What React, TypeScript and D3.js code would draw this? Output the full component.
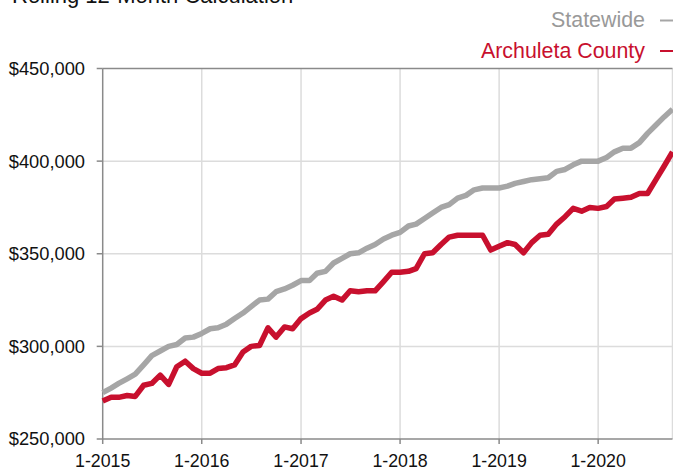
import React from "react";
import * as d3 from "d3";

const startYear = 2015;
const statewide = [
  275000, 277500, 280000, 282500, 285000, 290000, 295000, 297500, 300000, 301000,
  304500, 305000, 307000, 309500, 310000, 312000, 315000, 318000, 321500, 325000,
  325500, 329500, 331000, 333000, 335500, 335500, 339500, 340500, 345000, 347500,
  350000, 350500, 353000, 355000, 358000, 360000, 361500, 365000, 366000, 369000,
  372000, 375000, 376500, 380000, 381500, 384500, 385500, 385500, 385500, 386500,
  388000, 389000, 390000, 390500, 391000, 394500, 395500, 398000, 400000, 400000,
  400000, 402000, 405000, 407000, 407000, 410000, 415000, 419500, 424000, 428000,
];
const archuleta = [
  270500, 272500, 272500, 273500, 273000, 279000, 280000, 284500, 279500, 289000,
  292000, 288000, 285500, 285500, 288000, 288500, 290000, 297000, 300000, 300500,
  310000, 305000, 310500, 309500, 315000, 318000, 320000, 325000, 327000, 325000,
  330000, 329500, 330000, 330000, 335000, 340000, 340000, 340500, 342000, 350000,
  350500, 355000, 359000, 360000, 360000, 360000, 360000, 352000, 354000, 356000,
  355000, 350500, 356000, 360000, 360500, 366000, 370000, 374500, 373000, 375000,
  374500, 375500, 379500, 380000, 380500, 382500, 382500, 390000, 397500, 405000,
];
const yTicks = [250000, 300000, 350000, 400000, 450000];
const xTickYears = [2015, 2016, 2017, 2018, 2019, 2020];
const seriesNames = ["Statewide", "Archuleta County"];
const seriesColors = ["#a6a6a6", "#c8102e"];

const W = 673;
const H = 470;
const left = 102.7;
const right = 672.5;
const top = 68.5;
const bottom = 439;

export default function App() {
  const dates = statewide.map((_, i) => new Date(startYear, i, 1));
  const x = d3
    .scaleTime()
    .domain([dates[0], dates[dates.length - 1]])
    .range([left, right]);
  const y = d3.scaleLinear().domain([250000, 450000]).range([bottom, top]);
  const line = d3
    .line<number>()
    .x((_, i) => x(dates[i]))
    .y((d) => y(d));
  const fmt = d3.format("$,.0f");
  const font = "'Liberation Sans', Arial, Helvetica, sans-serif";
  const axisColor = "#8a8a8a";
  const gridColor = "#dcdcdc";

  return (
    <div style={{ position: "absolute", left: 0, top: 0 }}>
      <svg width={W} height={H} style={{ display: "block", fontFamily: font }}>
        <rect width={W} height={H} fill="#fff" />
        <text x={12} y={3} fontSize={22} fill="#111">
          Rolling 12-Month Calculation
        </text>
        {/* legend */}
        {seriesNames.map((n, i) => (
          <g key={n}>
            <text
              x={645}
              y={27 + i * 31}
              fontSize={21.4}
              textAnchor="end"
              fill={i === 0 ? "#999999" : seriesColors[1]}
            >
              {n}
            </text>
            <line
              x1={660}
              x2={673}
              y1={20.5 + i * 30.5}
              y2={20.5 + i * 30.5}
              stroke={seriesColors[i]}
              strokeWidth={2}
            />
          </g>
        ))}
        {/* grid */}
        {xTickYears.slice(1).map((yr) => (
          <line
            key={"vx" + yr}
            x1={x(new Date(yr, 0, 1))}
            x2={x(new Date(yr, 0, 1))}
            y1={top}
            y2={bottom}
            stroke={gridColor}
            strokeWidth={1.5}
          />
        ))}
        {yTicks.slice(1, -1).map((v) => (
          <line
            key={"hy" + v}
            x1={left}
            x2={right}
            y1={y(v)}
            y2={y(v)}
            stroke={gridColor}
            strokeWidth={1.5}
          />
        ))}
        <line x1={right} x2={right} y1={top} y2={bottom} stroke={gridColor} strokeWidth={1.5} />
        <line x1={left} x2={right} y1={top} y2={top} stroke={axisColor} strokeWidth={1.5} />
        {/* axes */}
        <line x1={left} x2={left} y1={top} y2={bottom} stroke={axisColor} strokeWidth={1.5} />
        <line x1={left} x2={right} y1={bottom} y2={bottom} stroke={axisColor} strokeWidth={1.5} />
        {yTicks.map((v) => (
          <g key={"yt" + v}>
            <line x1={left - 6} x2={left} y1={y(v)} y2={y(v)} stroke={axisColor} strokeWidth={1.5} />
            <text
              x={85}
              y={y(v)}
              dy="0.35em"
              textAnchor="end"
              fontSize={18.3}
              fill="#111"
            >
              {fmt(v)}
            </text>
          </g>
        ))}
        {xTickYears.map((yr) => {
          const px = x(new Date(yr, 0, 1));
          return (
            <g key={"xt" + yr}>
              <line x1={px} x2={px} y1={bottom} y2={bottom + 5} stroke={axisColor} strokeWidth={1.5} />
              <text x={px} y={467} textAnchor="middle" fontSize={17.8} fill="#111">
                {"1-" + yr}
              </text>
            </g>
          );
        })}
        {/* series */}
        {[statewide, archuleta].map((s, i) => (
          <path
            key={"s" + i}
            d={line(s) || ""}
            fill="none"
            stroke={seriesColors[i]}
            strokeWidth={5.5}
            strokeLinejoin="round"
            strokeLinecap="butt"
          />
        ))}
      </svg>
    </div>
  );
}
